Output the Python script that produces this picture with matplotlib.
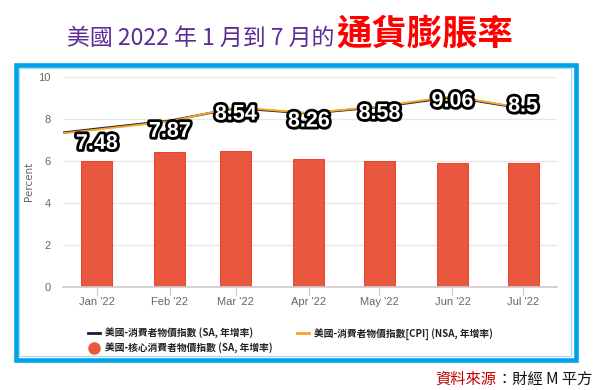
import matplotlib
matplotlib.use("Agg")
import matplotlib.pyplot as plt
import matplotlib.dates as mdates
import matplotlib.patheffects as pe
from matplotlib.patches import Rectangle
from matplotlib.lines import Line2D
import numpy as np

# ---- data ----
line_months = ['2021-12-01', '2022-01-01', '2022-02-01', '2022-03-01', '2022-04-01',
               '2022-05-01', '2022-06-01', '2022-07-01']
cpi_sa = [7.12, 7.52, 7.90, 8.50, 8.24, 8.55, 9.02, 8.48]
cpi_nsa = [7.10, 7.48, 7.87, 8.54, 8.26, 8.58, 9.06, 8.5]
bar_months = ['2022-01-01', '2022-02-01', '2022-03-01', '2022-04-01',
              '2022-05-01', '2022-06-01', '2022-07-01']
core_sa = [6.0, 6.4, 6.45, 6.1, 6.0, 5.9, 5.9]
tick_labels = ["Jan '22", "Feb '22", "Mar '22", "Apr '22", "May '22", "Jun '22", "Jul '22"]
label_values = ['7.48', '7.87', '8.54', '8.26', '8.58', '9.06', '8.5']
legend_labels = ['美國-消費者物價指數 (SA, 年增率)',
                 '美國-消費者物價指數[CPI] (NSA, 年增率)',
                 '美國-核心消費者物價指數 (SA, 年增率)']

# ---- style ----
label_offsets_px = [14, 10, 7, 8, 7, 5, -2]
CJK = ['Noto Sans CJK TC', 'DejaVu Sans']
NARROW = ['Liberation Sans Narrow', 'Liberation Sans', 'DejaVu Sans']

W, H = 600, 390
fig = plt.figure(figsize=(W / 100, H / 100), dpi=100)
fig.patch.set_facecolor('white')

def fx(px):
    return px / W

def fy(py):
    return 1 - py / H

# frame
fig.add_artist(Rectangle((fx(15.5), fy(359.5)), fx(560), 295 / H, transform=fig.transFigure,
                         fill=False, edgecolor='#00A2E8', linewidth=3.3, zorder=0))
fig.add_artist(Rectangle((fx(19), fy(355.5)), fx(552), 287.5 / H, transform=fig.transFigure,
                         fill=False, edgecolor='#9fd8f2', linewidth=0.8, zorder=0))

ax = fig.add_axes([fx(63), fy(287), fx(557 - 63), (287 - 76.5) / H])
ax.set_facecolor('none')

lx = mdates.date2num(np.array(line_months, dtype='datetime64[D]'))
bx = mdates.date2num(np.array(bar_months, dtype='datetime64[D]'))

ax.bar(bx, core_sa, width=13.2, color='#E9573F', edgecolor='#E8412C', linewidth=0.7, zorder=2)
ax.plot(lx, cpi_sa, color='#1c1c3c', linewidth=1.6, zorder=3)
ax.plot(lx, cpi_nsa, color='#F5A623', linewidth=1.4, zorder=4)

ax.set_xlim(bx[0] - 14.4, bx[-1] + 14.4)
ax.set_ylim(0, 10)
ax.set_yticks([0, 2, 4, 6, 8, 10])
ax.set_xticks(bx)
ax.set_xticklabels(tick_labels)

for s in ['top', 'right', 'left']:
    ax.spines[s].set_visible(False)
ax.spines['bottom'].set_color('#cccccc')
ax.spines['bottom'].set_linewidth(1.2)
ax.grid(axis='y', color='#e6e6e6', linewidth=0.9, zorder=0)
ax.set_axisbelow(True)
ax.tick_params(axis='y', length=0, pad=9, labelsize=8, labelcolor='#666666')
ax.tick_params(axis='x', length=6, width=0.9, color='#cccccc', pad=1.5,
               labelsize=8, labelcolor='#666666')
for t in ax.get_xticklabels() + ax.get_yticklabels():
    t.set_fontfamily(NARROW)
ax.set_ylabel('Percent', fontsize=7.5, color='#666666', labelpad=3, family='DejaVu Sans')

# data labels
effects = [pe.withSimplePatchShadow(offset=(1.5, -2), shadow_rgbFace='black', alpha=0.45),
           pe.Stroke(linewidth=4, foreground='black'), pe.Normal()]
for x, v, s, off in zip(lx[1:], cpi_nsa[1:], label_values, label_offsets_px):
    t = ax.annotate(s, (x, v), xytext=(0, -off), textcoords='offset pixels',
                    ha='center', va='center', fontsize=15.5, fontweight='bold',
                    color='white', family=NARROW, zorder=6, annotation_clip=False)
    t.set_path_effects(effects)

# legend
handles = [Line2D([], [], color='#1c1c3c', linewidth=2),
           Line2D([], [], marker='o', linestyle='none', markersize=8,
                  markerfacecolor='#E9573F', markeredgecolor='#E9573F'),
           Line2D([], [], color='#F5A623', linewidth=2)]
labels = [legend_labels[0], legend_labels[2], legend_labels[1]]
leg = fig.legend(handles, labels, loc='upper left', bbox_to_anchor=(fx(88), fy(328)),
                 ncol=2, frameon=False, handlelength=1.2, handletextpad=0.5,
                 columnspacing=2.6, labelspacing=0.4, borderpad=0, borderaxespad=0,
                 prop={'family': CJK, 'size': 7, 'weight': 'bold'})
for t in leg.get_texts():
    t.set_color('#222222')

# title
fig.text(fx(334), fy(45), '美國 2022 年 1 月到 7 月的', ha='right', va='baseline',
         fontsize=16.5, color='#5B2C92', family=CJK)
fig.text(fx(336), fy(45), '通貨膨脹率', ha='left', va='baseline',
         fontsize=25.5, color='#FF0000', fontweight='bold', family=CJK)

# source
fig.canvas.draw()
r = fig.canvas.get_renderer()
src = fig.text(fx(592), fy(384), '：財經 M 平方', ha='right', va='baseline',
               fontsize=11, color='#111111', family=CJK)
bb = src.get_window_extent(r)
fig.text(bb.x0 / W, fy(384), '資料來源', ha='right', va='baseline',
         fontsize=11, color='#C00000', family=CJK)

fig.savefig('out.png', dpi=100, facecolor='white')
